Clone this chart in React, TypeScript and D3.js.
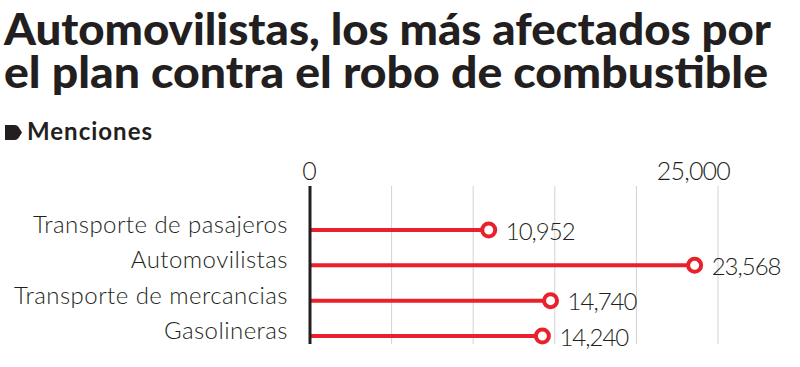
import { scaleLinear, scalePoint, format } from 'd3'

const categories = ['Transporte de pasajeros', 'Automovilistas', 'Transporte de mercancias', 'Gasolineras']
const values = [10952, 23568, 14740, 14240]
const tickLabels = [0, 25000]
const gridTicks = [5000, 10000, 15000, 20000, 25000]

const titleLines = ['Automovilistas, los más afectados por', 'el plan contra el robo de combustible']
const subtitle = 'Menciones'

const width = 800
const height = 367

const red = '#e8212b'
const ink = '#231f20'
const font = 'Lato, "Open Sans", sans-serif'

function App() {
  const x = scaleLinear().domain([0, 25000]).range([310, 718])
  const y = scalePoint<string>().domain(categories).range([230, 336])
  const fmt = format(',')

  return (
    <svg width={width} height={height} style={{ position: 'absolute', left: 0, top: 0, background: '#fff' }}>
      <text x={4} y={45} fontFamily={font} fontWeight={900} fontSize={44} fill={ink}
        textLength={767} lengthAdjust="spacingAndGlyphs">{titleLines[0]}</text>
      <text x={4} y={88} fontFamily={font} fontWeight={900} fontSize={44} fill={ink}
        textLength={764} lengthAdjust="spacingAndGlyphs">{titleLines[1]}</text>

      <path d="M5,125 H15 Q17,125 18.5,127 L22,132.5 L18.5,138 Q17,140 15,140 H5 Z" fill={ink} />
      <text x={27} y={140} fontFamily={font} fontWeight={700} fontSize={24} fill={ink}
        letterSpacing={1}>{subtitle}</text>

      {gridTicks.map(t => (
        <line key={t} x1={x(t)} x2={x(t)} y1={186} y2={344} stroke="#d2d2d2" strokeWidth={1} />
      ))}

      {tickLabels.map(t => (
        <text key={t} x={t === 0 ? x(t) - 1 : x(t) + 12} y={180}
          textAnchor={t === 0 ? 'middle' : 'end'}
          fontFamily={font} fontWeight={300} fontSize={25} letterSpacing={-0.8}
          fill={ink}>{fmt(t)}</text>
      ))}

      {categories.map((c, i) => {
        const cy = y(c) as number
        return (
          <g key={c}>
            <text x={288} y={cy + 3} textAnchor="end" fontFamily={font} fontWeight={300}
              fontSize={24} letterSpacing={0.45} fill={ink}>{c}</text>
            <line x1={x(0)} x2={x(values[i])} y1={cy} y2={cy} stroke={red} strokeWidth={4} />
            <circle cx={x(values[i])} cy={cy} r={6.5} fill="#fff" stroke={red} strokeWidth={4} />
            <text x={x(values[i]) + 17} y={cy + 9.5} fontFamily={font} fontWeight={300}
              fontSize={24} letterSpacing={-1} fill={ink}>{fmt(values[i])}</text>
          </g>
        )
      })}

      <line x1={x(0)} x2={x(0)} y1={186} y2={344} stroke={ink} strokeWidth={3} />
    </svg>
  )
}

export default App
